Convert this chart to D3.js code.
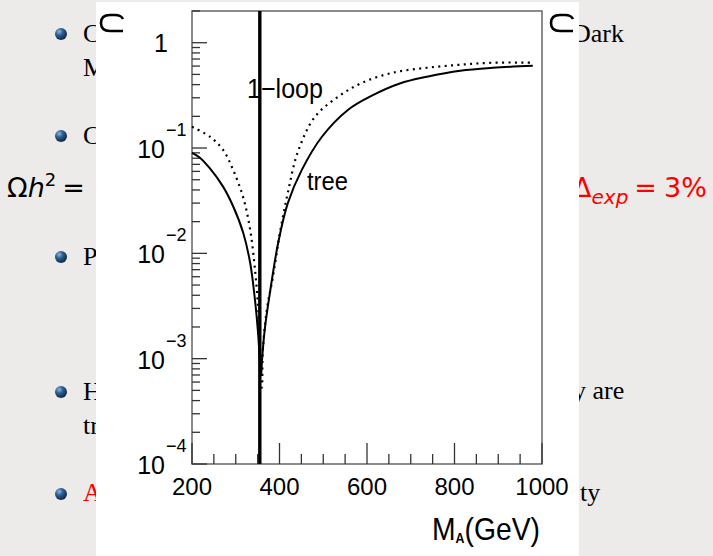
<!DOCTYPE html>
<html>
<head>
<meta charset="utf-8">
<script src="https://cdn.jsdelivr.net/npm/d3@7"></script>
<style>
  body { margin: 0; background: #ecebe9; }
  svg { display: block; }
  .slide { font-family: "Liberation Serif", serif; font-size: 26px; }
  .root { font-family: "Liberation Sans", sans-serif; fill: #000; }
</style>
</head>
<body>
<div id="chart"></div>
<script>
// DATA
////////////////////////////
// relic density vs M_A
var massTree  = [200, 218, 241, 271, 294, 317, 333, 344, 351, 355, 358, 360, 367, 378, 397, 419, 451, 497, 557, 611, 675, 737, 813, 888, 979];
var omegaTree = [0.090, 0.081, 0.064, 0.043, 0.028, 0.0157, 0.0081, 0.0036, 0.00176, 0.00097, 0.00070, 0.00097, 0.0020, 0.0042, 0.0126, 0.030, 0.062, 0.128, 0.231, 0.314, 0.410, 0.475, 0.542, 0.578, 0.604];

var massLoop  = [200, 241, 271, 294, 317, 333, 344, 351, 355, 360, 362, 371, 385, 401, 419, 442, 481, 534, 589, 659, 737, 813, 888, 977];
var omegaLoop = [0.159, 0.128, 0.096, 0.062, 0.034, 0.0167, 0.0070, 0.0031, 0.00135, 0.00053, 0.00121, 0.0029, 0.0060, 0.0157, 0.0376, 0.092, 0.198, 0.307, 0.417, 0.519, 0.578, 0.618, 0.646, 0.646];

var poleMass = 355;                       // the vertical line
var xTicks = [200, 400, 600, 800, 1000];
var yTicks = [1e-4, 1e-3, 1e-2, 1e-1, 1];
var yTickLabels = [["10", "\u22124"], ["10", "\u22123"], ["10", "\u22122"], ["10", "\u22121"], ["1", ""]];

// SETUP
////////////////////////////
var width = 713, height = 556;
var svg = d3.select("#chart").append("svg")
    .attr("width", width)
    .attr("height", height);

var defs = svg.append("defs");
var grad = defs.append("radialGradient").attr("id", "ball")
    .attr("cx", "35%").attr("cy", "30%").attr("r", "70%");
grad.append("stop").attr("offset", "0%").attr("stop-color", "#8fb4dc");
grad.append("stop").attr("offset", "45%").attr("stop-color", "#2d5d8f");
grad.append("stop").attr("offset", "100%").attr("stop-color", "#102a48");

// background slide (mostly hidden by the plot)
svg.append("rect").attr("width", width).attr("height", height).attr("fill", "#ecebe9");

var bullets = [34, 136, 257, 392, 494];
svg.selectAll("circle.bullet").data(bullets).enter().append("circle")
    .attr("class", "bullet")
    .attr("cx", 61).attr("cy", function(d) { return d; }).attr("r", 6)
    .attr("fill", "url(#ball)");

// left-hand fragments: text, x, baseline, colour
var leftText = [
  ["Candidates", 83, 42, "#000"],
  ["Many", 83, 76, "#000"],
  ["Constraints", 83, 144, "#000"],
  ["Precision", 83, 265, "#000"],
  ["However", 83, 400, "#000"],
  ["tree", 83, 434, "#000"],
  ["A", 83, 501, "#f00"]
];
svg.selectAll("text.left").data(leftText).enter().append("text")
    .attr("class", "slide")
    .attr("x", function(d) { return d[1]; })
    .attr("y", function(d) { return d[2]; })
    .style("fill", function(d) { return d[3]; })
    .text(function(d) { return d[0]; });

var rightText = [["Dark", 572, 42], ["y are", 573, 399], ["ty", 580, 501]];
svg.selectAll("text.right").data(rightText).enter().append("text")
    .attr("class", "slide")
    .attr("x", function(d) { return d[1]; })
    .attr("y", function(d) { return d[2]; })
    .style("fill", "#000")
    .text(function(d) { return d[0]; });

// formula fragments
var omegaTxt = svg.append("text").attr("x", 7).attr("y", 197)
    .style("font-family", "DejaVu Sans, sans-serif").style("font-size", "27px");
omegaTxt.append("tspan").text("\u03A9");
omegaTxt.append("tspan").style("font-style", "italic").text("h");
omegaTxt.append("tspan").attr("dy", -11).style("font-size", "18px").text("2");
omegaTxt.append("tspan").attr("dy", 11).attr("dx", 6).text("=");

var deltaTxt = svg.append("text").attr("x", 573).attr("y", 197).style("fill", "#f00")
    .style("font-family", "DejaVu Sans, sans-serif").style("font-size", "27px");
deltaTxt.append("tspan").text("\u0394");
deltaTxt.append("tspan").attr("dy", 7).style("font-style", "italic").style("font-size", "20px").text("exp");
deltaTxt.append("tspan").attr("dy", -7).attr("dx", 6).text("=");
deltaTxt.append("tspan").attr("dx", 7).text("3%");

// PLOT PANEL
////////////////////////////
svg.append("rect").attr("x", 96).attr("y", 2).attr("width", 483).attr("height", 554).attr("fill", "#fff");

// beamer navigation glyphs (curled "C" arrows in the corners)
[101, 551].forEach(function(x0) {
  svg.append("path")
    .attr("d", "M" + (x0 + 22) + ",19 Q" + (x0 + 20) + ",15 " + (x0 + 14) + ",15 L" + (x0 + 9) + ",15"
      + " Q" + x0 + ",15 " + x0 + ",23 Q" + x0 + ",31 " + (x0 + 9) + ",31 L" + (x0 + 22) + ",31")
    .attr("fill", "none").attr("stroke", "#000").attr("stroke-width", 2.6);
});

var x = d3.scaleLinear().domain([200, 1000]).range([192, 542]);
var y = d3.scaleLog().domain([1e-4, 2]).range([464, 11]);

// frame
svg.append("rect")
    .attr("x", x(200)).attr("y", y(2))
    .attr("width", x(1000) - x(200)).attr("height", y(1e-4) - y(2))
    .attr("fill", "none").attr("stroke", "#666").attr("stroke-width", 1.5);

// x axis: majors every 200, minors every 50
var xMinor = d3.range(200, 1001, 50);
svg.append("g").selectAll("line").data(xMinor).enter().append("line")
    .attr("x1", function(d) { return x(d); }).attr("x2", function(d) { return x(d); })
    .attr("y1", y(1e-4))
    .attr("y2", function(d) { return y(1e-4) - (d % 200 === 0 ? 21 : 10); })
    .attr("stroke", "#333").attr("stroke-width", 1.3);

svg.append("g").selectAll("text").data(xTicks).enter().append("text")
    .attr("class", "root")
    .attr("x", function(d) { return x(d); })
    .attr("y", 495)
    .attr("text-anchor", "middle")
    .style("font-size", "24px")
    .text(function(d) { return d; });

// y axis: decades + 2..9
var yMinor = [];
[1e-4, 1e-3, 1e-2, 1e-1, 1].forEach(function(dec) {
  for (var k = 2; k <= 9; k++) { if (dec * k <= 2) yMinor.push(dec * k); }
});
svg.append("g").selectAll("line").data(yMinor).enter().append("line")
    .attr("x1", x(200)).attr("x2", x(200) + 8)
    .attr("y1", function(d) { return y(d); }).attr("y2", function(d) { return y(d); })
    .attr("stroke", "#333").attr("stroke-width", 1.3);
svg.append("g").selectAll("line").data(yTicks).enter().append("line")
    .attr("x1", x(200)).attr("x2", x(200) + 15)
    .attr("y1", function(d) { return y(d); }).attr("y2", function(d) { return y(d); })
    .attr("stroke", "#333").attr("stroke-width", 1.3);

yTicks.forEach(function(v, i) {
  var lab = yTickLabels[i];
  if (lab[1] === "") {
    svg.append("text").attr("class", "root")
        .attr("x", 168).attr("y", y(v) + 9)
        .attr("text-anchor", "end").style("font-size", "25px").text(lab[0]);
  } else {
    svg.append("text").attr("class", "root")
        .attr("x", 165).attr("y", y(v) + 10)
        .attr("text-anchor", "end").style("font-size", "25px").text(lab[0]);
    svg.append("text").attr("class", "root")
        .attr("x", 166).attr("y", y(v) - 12)
        .style("font-size", "18px").text(lab[1]);
  }
});

// axis title
var xt = svg.append("text").attr("class", "root")
    .attr("x", 432).attr("y", 540)
    .attr("textLength", 108).attr("lengthAdjust", "spacingAndGlyphs")
    .style("font-size", "32px");
xt.append("tspan").text("M");
xt.append("tspan").attr("dy", 3).style("font-size", "14px").style("font-weight", "bold").text("A");
xt.append("tspan").attr("dy", -3).text("(GeV)");

// CURVES
////////////////////////////
var line = d3.line()
    .x(function(d) { return x(d[0]); })
    .y(function(d) { return y(d[1]); })
    .curve(d3.curveCatmullRom.alpha(0.5));

svg.append("path")
    .datum(d3.zip(massLoop, omegaLoop))
    .attr("d", line)
    .attr("fill", "none").attr("stroke", "#000")
    .attr("stroke-width", 2.2).attr("stroke-dasharray", "2 4.4");

svg.append("path")
    .datum(d3.zip(massTree, omegaTree))
    .attr("d", line)
    .attr("fill", "none").attr("stroke", "#000").attr("stroke-width", 2);

svg.append("line")
    .attr("x1", x(poleMass)).attr("x2", x(poleMass))
    .attr("y1", y(2)).attr("y2", y(1e-4))
    .attr("stroke", "#000").attr("stroke-width", 3.4);

// labels
svg.append("text").attr("class", "root")
    .attr("x", 247).attr("y", 98)
    .attr("textLength", 76).attr("lengthAdjust", "spacingAndGlyphs")
    .style("font-size", "28px").text("1\u2212loop");
svg.append("text").attr("class", "root")
    .attr("x", 307).attr("y", 190)
    .attr("textLength", 41).attr("lengthAdjust", "spacingAndGlyphs")
    .style("font-size", "25px").text("tree");
</script>
</body>
</html>
